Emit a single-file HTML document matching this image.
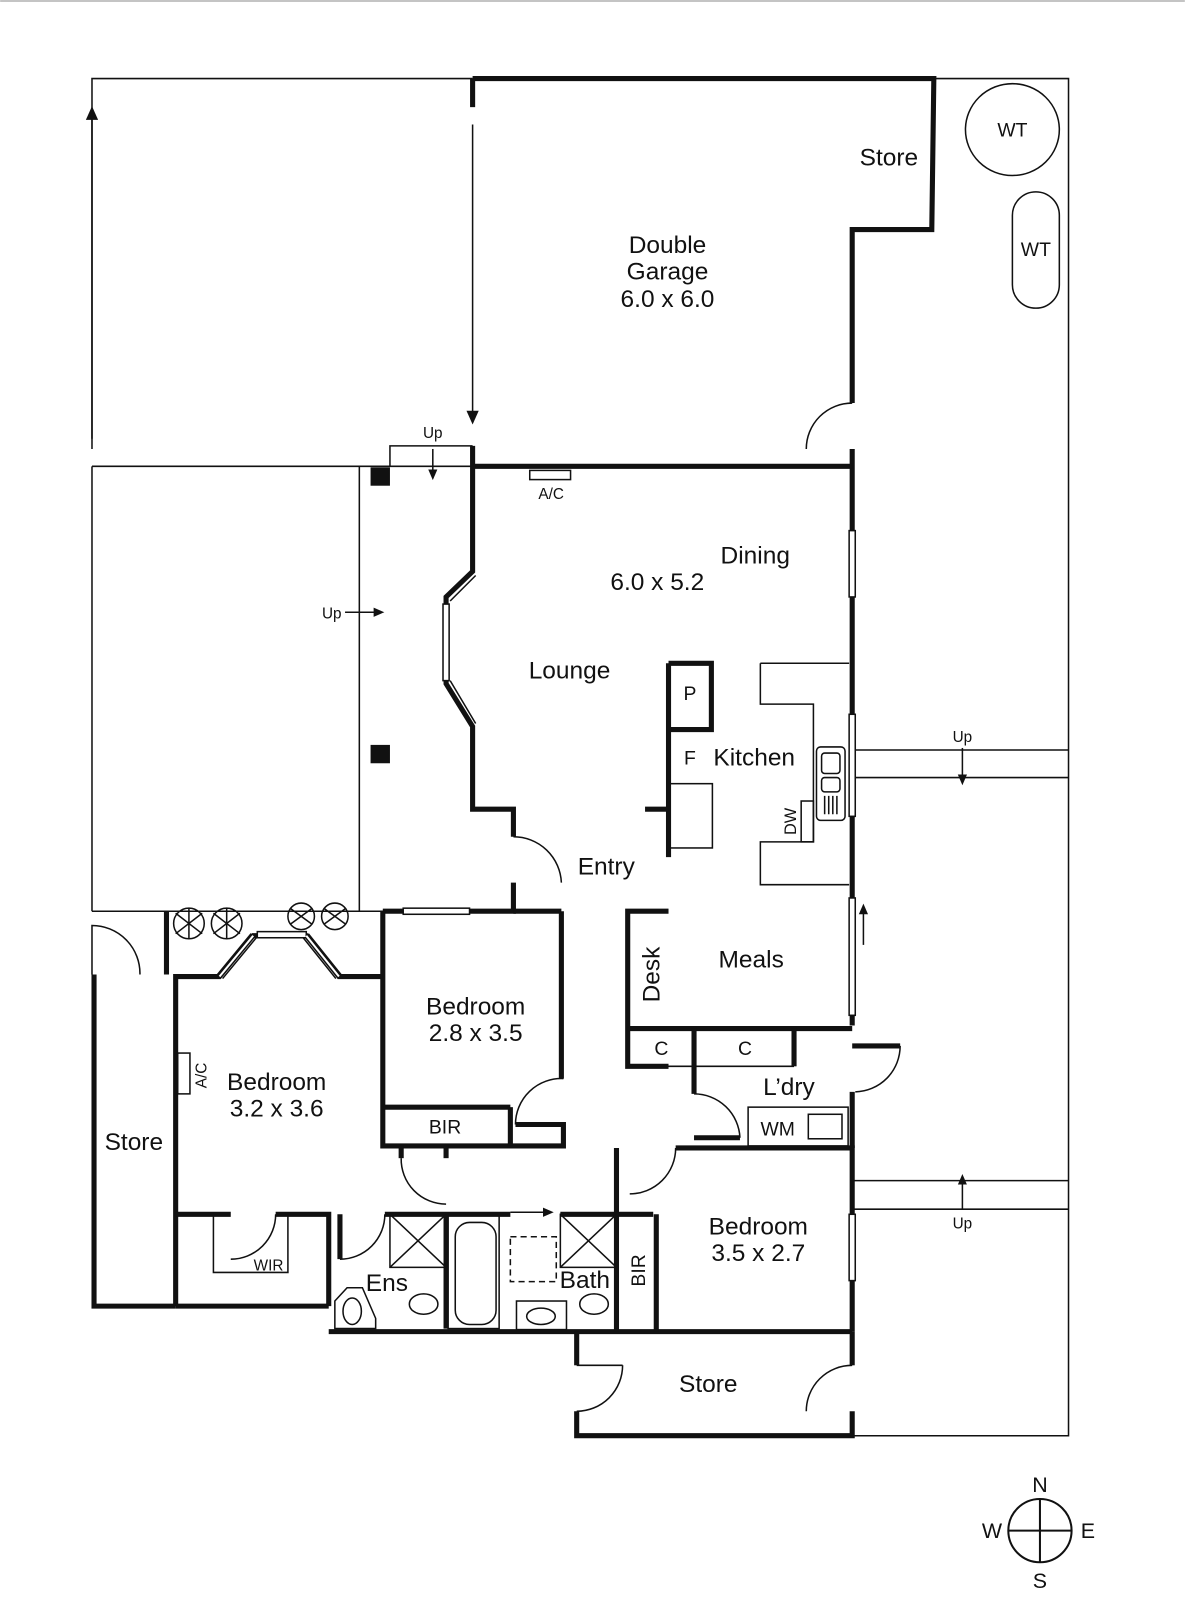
<!DOCTYPE html>
<html><head><style>
html,body{margin:0;padding:0;background:#fff;}
svg{display:block;}
text{font-family:"Liberation Sans",Arial,sans-serif;fill:#111;}
</style></head><body>
<svg width="1185" height="1600" viewBox="0 0 1161 1568" xmlns="http://www.w3.org/2000/svg">
<defs><marker id="ah" markerWidth="10" markerHeight="10" refX="5" refY="5" orient="auto"><path d="M0,1 L9,5 L0,9 z" fill="#111"/></marker>
<marker id="as" markerWidth="8" markerHeight="8" refX="4" refY="4" orient="auto"><path d="M0,1 L7,4 L0,7 z" fill="#111"/></marker></defs>
<line x1="0" y1="1" x2="1161" y2="1" stroke="#888" stroke-width="1"/>
<g fill="none" stroke="#111" stroke-width="1.5">
<polyline points="90,440 90,77 463,77"/>
<polyline points="915,77 1047,77 1047,1407 835,1407"/>
<line x1="90" y1="457" x2="90" y2="893"/>
<line x1="90" y1="457" x2="463" y2="457"/>
<line x1="90" y1="893" x2="503" y2="893"/>
<line x1="352" y1="457" x2="352" y2="893"/>
<polyline points="382,457 382,437 463,437"/>
<line x1="835" y1="735" x2="1047" y2="735"/><line x1="835" y1="762" x2="1047" y2="762"/>
<line x1="835" y1="1157" x2="1047" y2="1157"/><line x1="835" y1="1185" x2="1047" y2="1185"/>
<line x1="90" y1="430" x2="90" y2="110" marker-end="url(#ah)"/>
<line x1="463" y1="122" x2="463" y2="410" marker-end="url(#ah)"/>
<line x1="424" y1="440" x2="424" y2="466" marker-end="url(#as)"/>
<line x1="338" y1="600" x2="372" y2="600" marker-end="url(#as)"/>
<line x1="943" y1="733" x2="943" y2="765" marker-end="url(#as)"/>
<line x1="943" y1="1185" x2="943" y2="1155" marker-end="url(#as)"/>
<line x1="846" y1="926" x2="846" y2="890" marker-end="url(#as)"/>
<line x1="500" y1="1188" x2="538" y2="1188" marker-end="url(#as)"/>
<path d="M835,395 A45,45 0 0 0 790,440"/>
<path d="M503,820 A47,47 0 0 1 550,865"/>
<path d="M90,955 L90,907 A47,47 0 0 1 137,955"/>
<path d="M552,1057 A45,45 0 0 0 505,1102"/>
<path d="M393,1135 A44,44 0 0 0 437,1180"/>
<path d="M270,1190 A44,44 0 0 1 226,1234"/>
<path d="M377,1190 A44,44 0 0 1 333,1234"/>
<path d="M680,1072 A45,45 0 0 1 725,1115"/>
<path d="M662,1125 A45,45 0 0 1 617,1170"/>
<path d="M882,1025 A45,45 0 0 1 838,1070"/>
<path d="M610,1338 A45,45 0 0 1 565,1383 M565,1338 L610,1338"/>
<path d="M835,1338 A45,45 0 0 0 790,1383"/>
<rect x="519" y="461" width="40" height="9"/>
<rect x="174" y="1032" width="12" height="40"/>
<polyline points="209,1190 209,1247 282,1247 282,1190"/>
<polyline points="745,650 832,650"/><polyline points="745,650 745,690 797,690 797,825 745,825 745,867 832,867"/>
<rect x="785" y="785" width="12" height="40"/>
<rect x="800" y="732" width="28" height="72" rx="4"/>
<rect x="805" y="738" width="18" height="20" rx="3"/><rect x="805" y="762" width="18" height="14" rx="3"/>
<path d="M808,780 V798 M812,780 V798 M816,780 V798 M820,780 V798"/>
<rect x="656" y="768" width="42" height="63"/>
<rect x="733" y="1085" width="98" height="38"/><rect x="792" y="1092" width="33" height="24"/>
<rect x="439" y="1190" width="50" height="112"/><rect x="446" y="1198" width="40" height="100" rx="14"/>
<rect x="382" y="1190" width="55" height="52"/><path d="M382,1190 L437,1242 M437,1190 L382,1242"/>
<rect x="549" y="1190" width="55" height="52"/><path d="M549,1190 L604,1242 M604,1190 L549,1242"/>
<rect x="500" y="1212" width="45" height="44" stroke-dasharray="6,4"/>
<rect x="506" y="1275" width="49" height="28"/><ellipse cx="530" cy="1290" rx="14" ry="8"/>
<ellipse cx="415" cy="1278" rx="14" ry="10"/><ellipse cx="582" cy="1278" rx="14" ry="10"/>
<path d="M328,1275 L340,1262 L355,1262 L368,1292 L368,1302 L328,1302 Z"/><ellipse cx="345" cy="1285" rx="9" ry="13"/>
<rect x="946" y="82" width="92" height="90" rx="46"/>
<rect x="992" y="188" width="46" height="114" rx="23"/>
<line x1="615" y1="1045" x2="778" y2="1045"/>
</g>
<g fill="none" stroke="#111" stroke-width="5" stroke-linejoin="miter">
<polyline points="463,77 915,77 913,225 835,225 835,395"/>
<line x1="463" y1="77" x2="463" y2="105"/>
<line x1="835" y1="440" x2="835" y2="1005"/>
<line x1="463" y1="457" x2="835" y2="457"/>
<polyline points="463,437 463,560 437,585 437,670 463,712 463,793 503,793 503,820"/>
<polyline points="503,865 503,893 460,893"/><line x1="375" y1="893" x2="395" y2="893"/>
<line x1="503" y1="893" x2="550" y2="893"/>
<polyline points="375,893 375,1123 552,1123 552,1102 505,1102"/>
<polyline points="550,893 550,1057"/>
<line x1="375" y1="1085" x2="500" y2="1085"/><line x1="500" y1="1085" x2="500" y2="1123"/>
<polyline points="92,955 92,1280 172,1280"/>
<polyline points="172,1280 172,957 215,957 248,917 300,917 332,957 375,957"/>
<polyline points="163,893 163,955"/>
<line x1="172" y1="1280" x2="322" y2="1280"/>
<polyline points="172,1190 226,1190"/><polyline points="270,1190 322,1190 322,1280"/>
<polyline points="333,1190 333,1234"/><line x1="377" y1="1190" x2="500" y2="1190"/><line x1="549" y1="1190" x2="640" y2="1190"/>
<line x1="437" y1="1190" x2="437" y2="1302"/>
<line x1="393" y1="1123" x2="393" y2="1135"/><line x1="437" y1="1123" x2="437" y2="1135"/>
<line x1="322" y1="1305" x2="835" y2="1305"/>
<polyline points="604,1125 604,1305"/><line x1="643" y1="1190" x2="643" y2="1305"/>
<polyline points="662,1125 835,1125 835,1305"/>
<polyline points="835,1025 882,1025"/><line x1="835" y1="1070" x2="835" y2="1125"/>
<polyline points="655,893 615,893 615,1045 655,1045"/>
<line x1="615" y1="1008" x2="835" y2="1008"/>
<polyline points="680,1008 680,1072"/><line x1="778" y1="1008" x2="778" y2="1045"/>
<line x1="680" y1="1115" x2="725" y2="1115"/>
<polyline points="655,650 697,650 697,715 655,715"/>
<line x1="655" y1="650" x2="655" y2="840"/><line x1="632" y1="793" x2="655" y2="793"/>
<polyline points="565,1305 565,1338"/><polyline points="565,1383 565,1407 835,1407 835,1383"/><line x1="835" y1="1305" x2="835" y2="1338"/>
</g>
<g fill="#fff" stroke="#111" stroke-width="1.5">
<rect x="832" y="520" width="6" height="65"/><rect x="832" y="700" width="6" height="100"/>
<rect x="832" y="880" width="6" height="115"/><rect x="832" y="1190" width="6" height="65"/>
<rect x="395" y="890" width="65" height="6"/>
<rect x="434" y="592" width="6" height="75"/>
<path d="M437,585 L463,560 M441,589 L466,564" fill="none"/>
<path d="M437,670 L463,712 M441,667 L466,709" fill="none"/>
<rect x="252" y="913" width="48" height="6"/>
<path d="M215,957 L248,917" fill="none" stroke="#fff" stroke-width="2"/>
<path d="M332,957 L300,917" fill="none" stroke="#fff" stroke-width="2"/>
<path d="M213,955 L246,915 M218,959 L251,919 M334,955 L302,915 M329,959 L297,919" fill="none"/>
</g>
<rect x="363" y="458" width="19" height="18" fill="#111"/>
<rect x="363" y="730" width="19" height="18" fill="#111"/>
<g fill="none" stroke="#111" stroke-width="1.5">
<circle cx="185" cy="905" r="15"/><circle cx="222" cy="905" r="15"/><circle cx="295" cy="898" r="13"/><circle cx="328" cy="898" r="13"/>
<path d="M172,895 L198,915 M172,915 L198,895 M185,890 L185,920 M209,895 L235,915 M209,915 L235,895 M222,890 L222,920 M284,890 L306,906 M284,906 L306,890 M317,890 L339,906 M317,906 L339,890"/>
</g>
<g font-size="24" text-anchor="middle">
<text x="654" y="248">Double</text><text x="654" y="274">Garage</text><text x="654" y="301">6.0 x 6.0</text>
<text x="871" y="162">Store</text>
<text x="740" y="552">Dining</text><text x="644" y="578">6.0 x 5.2</text>
<text x="558" y="665">Lounge</text>
<text x="739" y="750">Kitchen</text>
<text x="594" y="857">Entry</text>
<text x="736" y="948">Meals</text>
<text x="466" y="994">Bedroom</text><text x="466" y="1020">2.8 x 3.5</text>
<text x="271" y="1068">Bedroom</text><text x="271" y="1094">3.2 x 3.6</text>
<text x="131" y="1127">Store</text>
<text x="773" y="1073">L’dry</text>
<text x="743" y="1210">Bedroom</text><text x="743" y="1236">3.5 x 2.7</text>
<text x="379" y="1265">Ens</text>
<text x="573" y="1262">Bath</text>
<text x="694" y="1364">Store</text>
<text transform="translate(646,955) rotate(-90)">Desk</text>
</g>
<g font-size="19" text-anchor="middle">
<text x="676" y="686">P</text><text x="676" y="749">F</text>
<text x="648" y="1034">C</text><text x="730" y="1034">C</text>
<text x="436" y="1111">BIR</text><text x="762" y="1113">WM</text>
<text x="992" y="134">WT</text><text x="1015" y="251">WT</text>
<text transform="translate(632,1245) rotate(-90)">BIR</text>
<text transform="translate(780,805) rotate(-90)" font-size="16">DW</text>
<text transform="translate(202,1054) rotate(-90)" font-size="15">A/C</text>
</g>
<g font-size="15" text-anchor="middle">
<text x="540" y="489">A/C</text><text x="424" y="429">Up</text><text x="325" y="606">Up</text>
<text x="943" y="727">Up</text><text x="943" y="1204">Up</text><text x="263" y="1245">WIR</text>
</g>
<g fill="none" stroke="#111" stroke-width="2"><circle cx="1019" cy="1500" r="31"/><line x1="988" y1="1500" x2="1050" y2="1500"/><line x1="1019" y1="1469" x2="1019" y2="1531"/></g>
<g font-size="21" text-anchor="middle"><text x="1019" y="1462">N</text><text x="1019" y="1556">S</text><text x="972" y="1507">W</text><text x="1066" y="1507">E</text></g>
</svg>
</body></html>
